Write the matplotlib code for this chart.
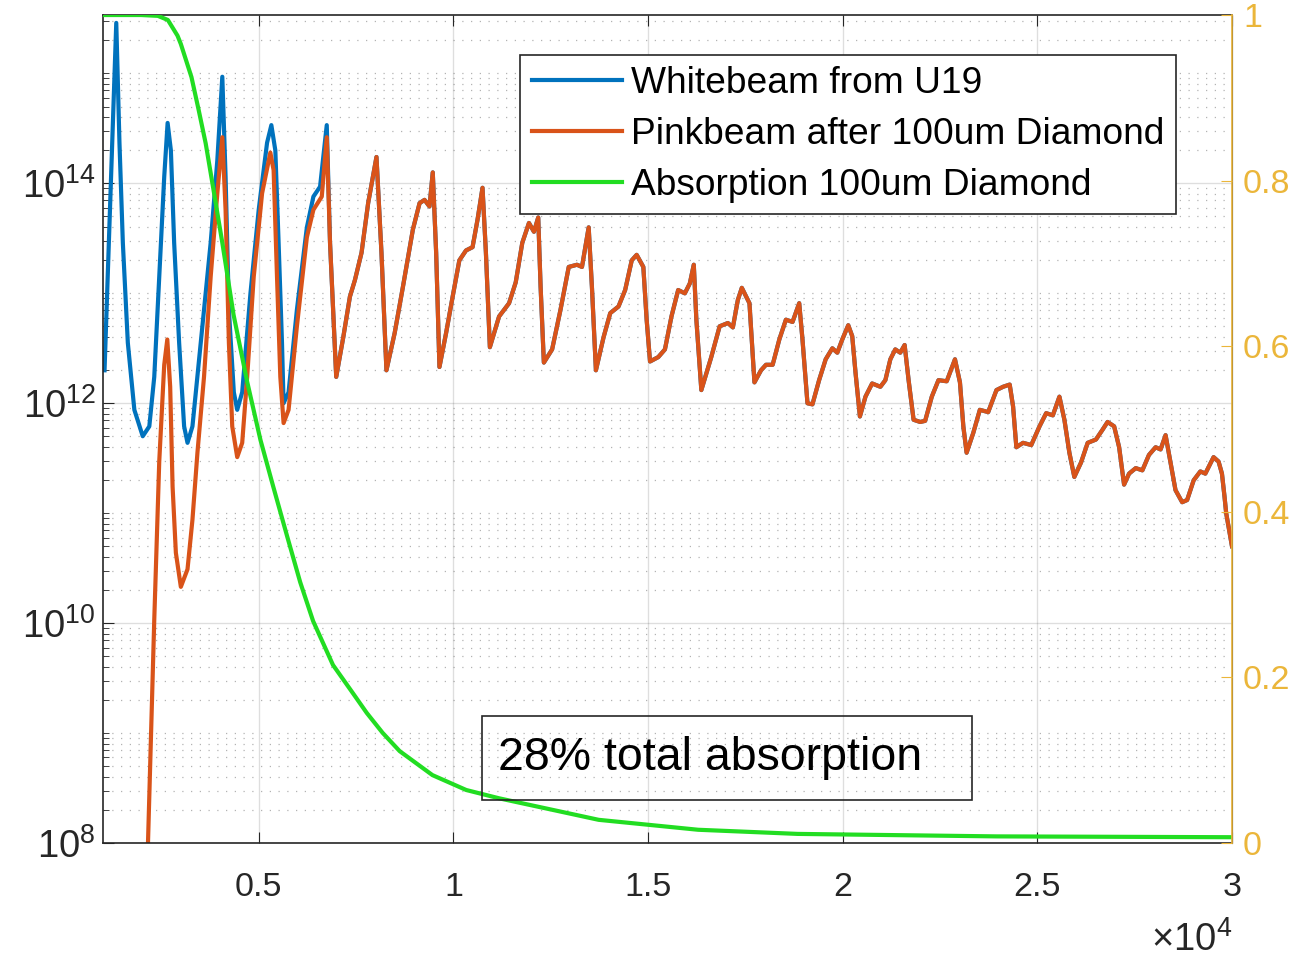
import numpy as np
import matplotlib
matplotlib.use('Agg')
import matplotlib.pyplot as plt
from matplotlib.ticker import FixedLocator, LogLocator, NullLocator, NullFormatter
from matplotlib.patches import Rectangle
from matplotlib.lines import Line2D

plt.rcParams['font.family'] = ['Liberation Sans', 'DejaVu Sans']
plt.rcParams['mathtext.fontset'] = 'custom'
plt.rcParams['mathtext.rm'] = 'Liberation Sans'
plt.rcParams['mathtext.it'] = 'Liberation Sans:italic'

# photon energy (eV) and log10 of flux
white_energy = [1040, 1341, 1423, 1510, 1638, 1806, 2021, 2190, 2317, 2445, 2573,
                2660, 2744, 2828, 2956, 3084, 3171, 3298, 3511, 3766, 3937, 4065,
                4149, 4234, 4361, 4448, 4576, 4788, 5000, 5215, 5325, 5427, 5511,
                5598, 5639, 5767, 5981, 6237, 6405, 6576, 6748]
white_log = [12.30, 15.46, 14.37, 13.46, 12.55, 11.94, 11.70, 11.79, 12.24, 13.15, 14.06,
             14.55, 14.30, 13.46, 12.55, 11.79, 11.64, 11.79, 12.55, 13.46, 14.21, 14.97,
             14.06, 12.85, 12.10, 11.94, 12.10, 13.00, 13.76, 14.37, 14.53, 14.30, 13.46,
             12.55, 12.00, 12.10, 12.85, 13.60, 13.88, 13.97, 14.53]

pink_energy = [2130, 2156, 2317, 2445, 2573, 2652, 2726, 2788, 2872, 3000, 3171,
               3298, 3426, 3595, 3766, 3937, 4065, 4149, 4234, 4320, 4448, 4576,
               4704, 4872, 5087, 5299, 5383, 5470, 5555, 5639, 5767, 5981, 6237,
               6405, 6620, 6748]
pink_log = [7.3, 8.0, 10.03, 11.47, 12.35, 12.58, 12.15, 11.24, 10.64, 10.33, 10.49,
            10.94, 11.55, 12.24, 13.15, 13.91, 14.42, 13.76, 12.55, 11.79, 11.51, 11.64,
            12.24, 13.15, 13.91, 14.28, 14.12, 13.15, 12.24, 11.82, 11.94, 12.70, 13.51,
            13.76, 13.88, 14.42]

# above ~6.8 keV both beams lie on top of each other
common_energy = [6832, 6991, 7172, 7343, 7471, 7642, 7811, 8025, 8153, 8281, 8493,
                 8705, 8960, 9132, 9259, 9387, 9471, 9558, 9643, 9814, 9982, 10154,
                 10325, 10493, 10621, 10749, 10836, 10938, 11175, 11431, 11602, 11771,
                 11942, 12070, 12180, 12241, 12325, 12537, 12752, 12964, 13176, 13304,
                 13476, 13559, 13662, 13858, 14030, 14242, 14413, 14582, 14709, 14880,
                 14965, 15052, 15264, 15435, 15603, 15775, 15946, 16074, 16176, 16242,
                 16370, 16625, 16840, 17052, 17180, 17308, 17410, 17606, 17734, 17903,
                 18031, 18202, 18373, 18542, 18713, 18884, 18968, 19096, 19224, 19395,
                 19564, 19735, 19863, 19990, 20144, 20246, 20330, 20443, 20586, 20757,
                 20969, 21097, 21225, 21352, 21480, 21592, 21694, 21822, 21991, 22119,
                 22290, 22461, 22673, 22885, 23013, 23100, 23184, 23355, 23524, 23739,
                 23951, 24122, 24291, 24378, 24462, 24633, 24845, 25057, 25228, 25399,
                 25568, 25696, 25824, 25951, 26122, 26294, 26506, 26677, 26805, 26974,
                 27102, 27229, 27357, 27528, 27699, 27868, 28039, 28167, 28295, 28422,
                 28550, 28721, 28849, 29017, 29188, 29316, 29528, 29656, 29743, 29809,
                 29852, 30000]
common_log = [13.46, 12.24, 12.60, 12.97, 13.12, 13.37, 13.82, 14.24, 13.37, 12.30, 12.64,
              13.06, 13.58, 13.82, 13.85, 13.79, 14.10, 13.37, 12.33, 12.64, 12.97, 13.30,
              13.39, 13.42, 13.67, 13.96, 13.37, 12.51, 12.79, 12.91, 13.10, 13.46,
              13.64, 13.56, 13.69, 13.06, 12.37, 12.49, 12.85, 13.24, 13.26, 13.24,
              13.60, 13.06, 12.30, 12.60, 12.82, 12.88, 13.03, 13.30, 13.35, 13.24,
              12.76, 12.38, 12.42, 12.49, 12.79, 13.03, 13.00, 13.09, 13.26, 12.76,
              12.12, 12.42, 12.70, 12.73, 12.69, 12.94, 13.05, 12.91, 12.19, 12.30,
              12.35, 12.35, 12.58, 12.76, 12.74, 12.91, 12.58, 12.00, 11.99, 12.21,
              12.40, 12.50, 12.46, 12.58, 12.71, 12.61, 12.28, 11.88, 12.06, 12.18,
              12.15, 12.21, 12.40, 12.49, 12.46, 12.53, 12.21, 11.85, 11.83, 11.84,
              12.06, 12.21, 12.20, 12.40, 12.19, 11.79, 11.55, 11.73, 11.94, 11.92,
              12.12, 12.15, 12.17, 11.97, 11.60, 11.64, 11.62, 11.79, 11.91, 11.89,
              12.06, 11.85, 11.55, 11.33, 11.46, 11.64, 11.67, 11.76, 11.83, 11.79,
              11.60, 11.26, 11.36, 11.41, 11.39, 11.53, 11.60, 11.58, 11.71, 11.46,
              11.21, 11.10, 11.12, 11.30, 11.38, 11.36, 11.51, 11.47, 11.36, 11.15,
              11.00, 10.70]

abs_energy = [1000, 1980, 2410, 2667, 2915, 3000, 3273, 3459, 3638, 3810, 4065, 4354,
              4704, 5044, 5376, 5733, 6066, 6398, 6908, 7419, 7777, 8184, 8620, 9463,
              10332, 11175, 13733, 16288, 18843, 23953, 30000]
abs_value = [1.0, 1.0, 0.999, 0.994, 0.975, 0.965, 0.925, 0.885, 0.845, 0.797, 0.725, 0.638,
             0.557, 0.487, 0.430, 0.370, 0.315, 0.268, 0.215, 0.181, 0.157, 0.133, 0.111,
             0.082, 0.064, 0.054, 0.028, 0.016, 0.011, 0.008, 0.007]

labels = ['Whitebeam from U19', 'Pinkbeam after 100um Diamond', 'Absorption 100um Diamond']
x_ticks = [5000, 10000, 15000, 20000, 25000, 30000]
x_ticklabels = ['0.5', '1', '1.5', '2', '2.5', '3']
right_ticks = [0, 0.2, 0.4, 0.6, 0.8, 1]
right_ticklabels = ['0', '0.2', '0.4', '0.6', '0.8', '1']

blue = '#0072BD'
orange = '#D95319'
green = '#22DD22'
gold = '#EBB63A'
dark = '#262626'
LW = 3.0

white_E = np.array(white_energy + common_energy)
white_F = 10.0 ** np.array(white_log + common_log)
pink_E = np.array(pink_energy + common_energy)
pink_F = 10.0 ** np.array(pink_log + common_log)

fig = plt.figure(figsize=(13.02, 9.63), dpi=100)
ax = fig.add_axes([0.0791, 0.1246, 0.8671, 0.8598])

ax.plot(white_E, white_F, color=blue, lw=LW, solid_joinstyle='round')
ax.plot(pink_E, pink_F, color=orange, lw=LW, solid_joinstyle='round')
ax.set_yscale('log')
ax.set_xlim(1000, 30000)
ax.set_ylim(1e8, 3.4e15)

ax.yaxis.set_major_locator(FixedLocator([1e8, 1e10, 1e12, 1e14]))
ax.yaxis.set_minor_locator(LogLocator(base=10, subs=np.arange(1, 10), numticks=50))
ax.yaxis.set_minor_formatter(NullFormatter())
ax.set_xticks(x_ticks)
ax.set_xticklabels(x_ticklabels)
ax.xaxis.set_minor_locator(NullLocator())

ax.tick_params(which='both', direction='in', top=True, right=False, colors=dark)
ax.tick_params(axis='x', which='major', length=8, pad=21, labelsize=24.5)
ax.tick_params(axis='y', which='major', length=8, pad=5, labelsize=27.5)
ax.tick_params(axis='y', which='minor', length=4)

ax.grid(which='major', color=dark, alpha=0.15, lw=1.0)
ax.grid(which='minor', axis='y', color=dark, alpha=0.35, lw=0.9, linestyle=(0, (1, 6)))
for s in ['left', 'bottom', 'top']:
    ax.spines[s].set_color(dark)
    ax.spines[s].set_linewidth(1.2)

ax2 = ax.twinx()
ax2.plot(abs_energy, abs_value, color=green, lw=LW, solid_joinstyle='round')
ax2.set_ylim(0, 1)
ax2.set_yticks(right_ticks)
ax2.set_yticklabels(right_ticklabels)
ax2.tick_params(axis='y', direction='in', colors=gold, labelsize=24.5, length=8, pad=8)
for s in ['left', 'bottom', 'top']:
    ax2.spines[s].set_visible(False)
ax2.spines['right'].set_color(gold)
ax2.spines['right'].set_linewidth(1.2)

handles = [Line2D([], [], color=c, lw=LW) for c in (blue, orange, green)]
leg = ax2.legend(handles, labels, loc='upper right', bbox_to_anchor=(0.950, 0.952),
                 borderaxespad=0, fontsize=26.7, fancybox=False, framealpha=1,
                 edgecolor=dark, handlelength=2.43, handletextpad=0.25,
                 labelspacing=0.43, borderpad=0.3)
leg.get_frame().set_linewidth(1.2)

ax2.add_patch(Rectangle((0.336, 0.052), 0.434, 0.101, transform=ax2.transAxes,
                        facecolor='none', edgecolor=dark, lw=1.2, zorder=5))
ax2.text(0.350, 0.1025, '28% total absorption', transform=ax2.transAxes,
         fontsize=33.5, va='center', ha='left', color='black', zorder=6)

fig.text(1232 / 1302, 1 - 940 / 963, r'$\times10^{4}$', ha='right', va='center',
         fontsize=27.5, color=dark)

fig.savefig('out.png', dpi=100)
